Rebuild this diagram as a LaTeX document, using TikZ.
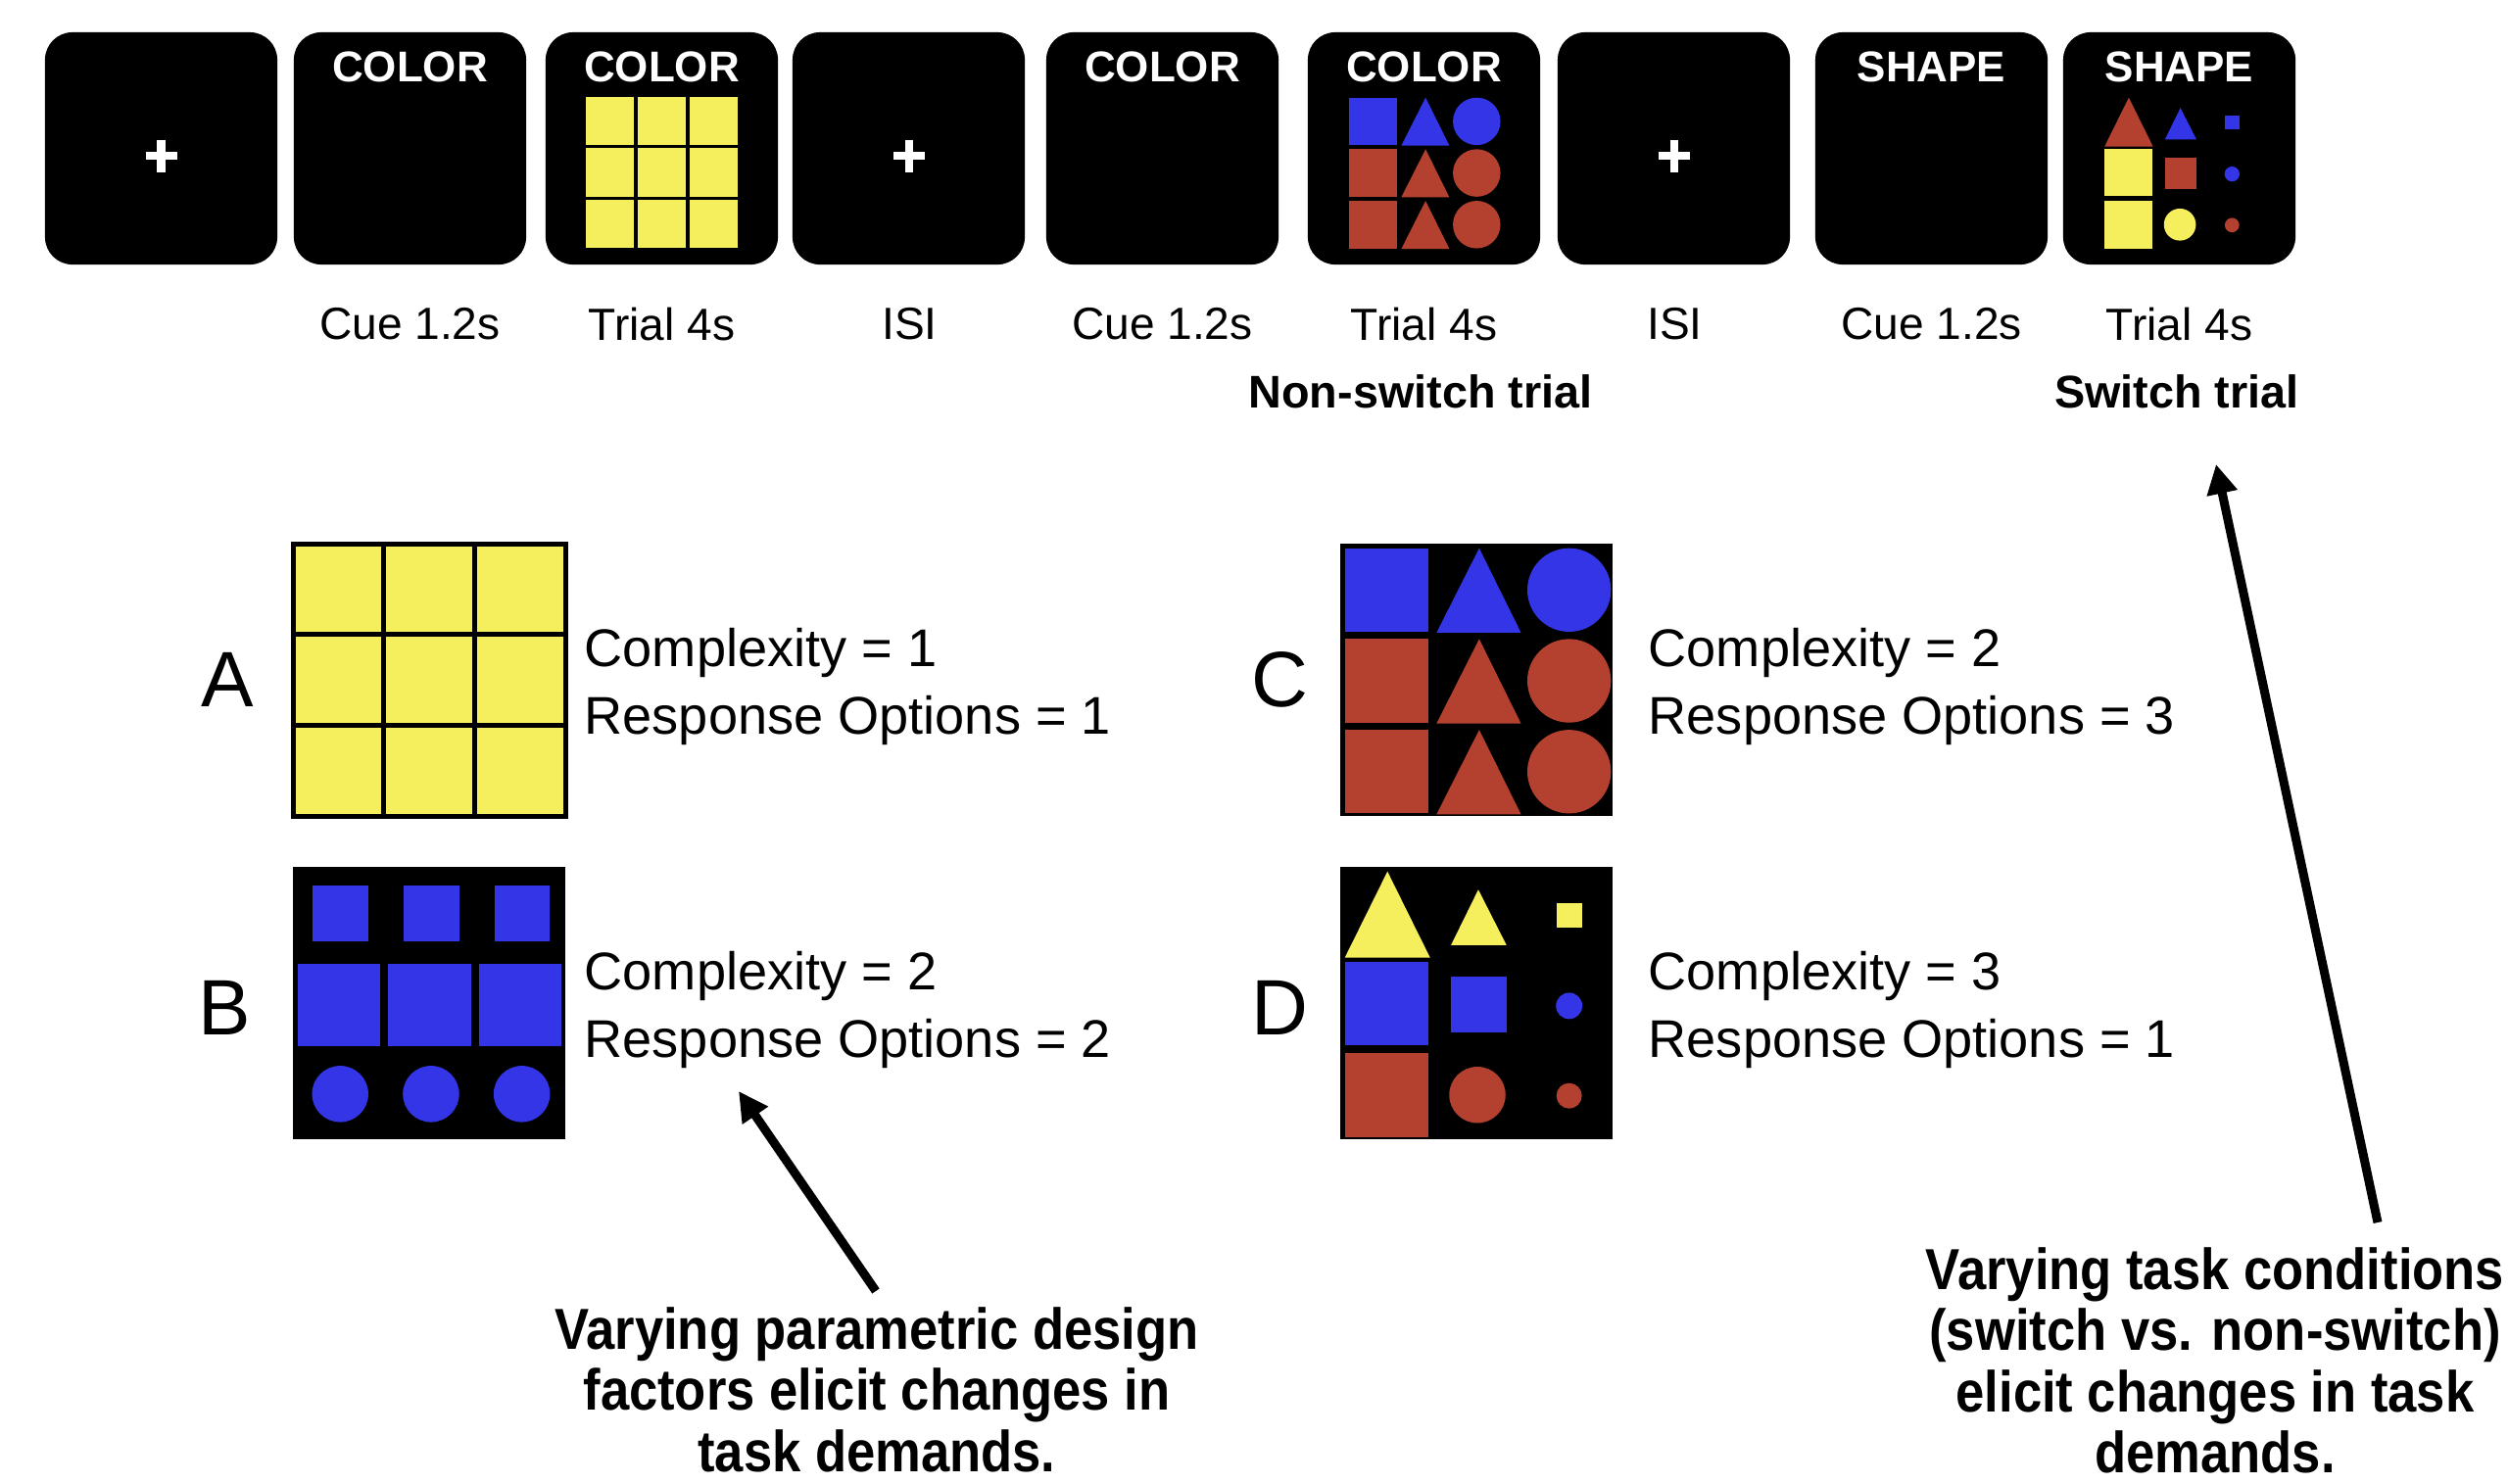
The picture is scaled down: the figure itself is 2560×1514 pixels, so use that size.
\documentclass[tikz,border=0pt]{standalone}
\usepackage{fontspec}
\setmainfont{Liberation Sans}
\newfontfamily\capfont[FakeStretch=0.89]{Liberation Sans}
\usetikzlibrary{arrows.meta}
\definecolor{ylw}{RGB}{245,239,93}
\definecolor{blu}{RGB}{53,53,232}
\definecolor{rd}{RGB}{180,64,47}

\tikzset{
  panel/.style={fill=black, rounded corners=0.28cm, minimum width=2.37cm, minimum height=2.37cm, inner sep=0pt},
  cuetxt/.style={text=white, font=\bfseries\fontsize{12.5}{14}\selectfont, inner sep=0pt},
  lbl/.style={font=\fontsize{13.1}{15}\selectfont, inner sep=0pt},
  trialtype/.style={font=\bfseries\fontsize{13.3}{15}\selectfont, inner sep=0pt},
  letter/.style={font=\fontsize{22.8}{26}\selectfont, inner sep=0pt},
  desc/.style={font=\fontsize{15.4}{18}\selectfont, inner sep=0pt, anchor=base west},
  caption/.style={font=\capfont\bfseries\fontsize{16.8}{17.7}\selectfont, align=center, inner sep=0pt, anchor=north},
  arr/.style={line width=0.09cm, -{Triangle[length=0.3cm, width=0.3cm]}},
  gridbox/.style={minimum width=2.78cm, minimum height=2.78cm, inner sep=0pt, anchor=north west},
  plusline/.style={white, line width=0.08cm},
}

\newcommand{\drawYellowGrid}[1]{%
  \fill[ylw] (0,0) rectangle (3,3);
  \draw[line width=#1] (0,0) rectangle (3,3);
  \draw[line width=#1] (1,0) -- (1,3) (2,0) -- (2,3) (0,1) -- (3,1) (0,2) -- (3,2);
}
\newcommand{\drawShapesB}{%
  \fill[black] (0,0) rectangle (3,3);
  \foreach \i in {0,1,2}{
    \fill[blu] (\i+0.22,0.21) rectangle (\i+0.83,0.82);
    \fill[blu] (\i+0.05,1.07) rectangle (\i+0.96,1.97);
    \fill[blu] (\i+0.52,2.5) circle (0.31);
  }
}
\newcommand{\drawShapesC}{%
  \fill[black] (0,0) rectangle (3,3);
  \foreach \j/\c in {0/blu,1/rd,2/rd}{
    \fill[\c] (0.05,\j+0.05) rectangle (0.97,\j+0.97);
    \fill[\c] (1.06,\j+0.98) -- (1.53,\j+0.05) -- (1.99,\j+0.98) -- cycle;
    \fill[\c] (2.52,\j+0.51) circle (0.46);
  }
}
\newcommand{\drawShapesD}[9]{%
  \fill[black] (0,0) rectangle (3,3);
  \fill[#1] (0.05,1.0) -- (0.52,0.05) -- (0.99,1.0) -- cycle;
  \fill[#2] (1.22,0.86) -- (1.52,0.25) -- (1.83,0.86) -- cycle;
  \fill[#3] (2.38,0.4) rectangle (2.66,0.67);
  \fill[#4] (0.05,1.05) rectangle (0.97,1.96);
  \fill[#5] (1.22,1.21) rectangle (1.83,1.82);
  \fill[#6] (2.52,1.53) circle (0.145);
  \fill[#7] (0.05,2.05) rectangle (0.97,2.98);
  \fill[#8] (1.51,2.51) circle (0.31);
  \fill[#9] (2.52,2.52) circle (0.14);
}

\begin{document}
\begin{tikzpicture}[x=0.01cm, y=-0.01cm]
\useasboundingbox (0,0) rectangle (2560,1514);
\fill[white] (0,0) rectangle (2560,1514);

% ---- top row of panels ----
\node[panel] (p1) at (164.5,151.5) {};
\node[panel] (p2) at (418.5,151.5) {};
\node[panel] (p3) at (675.5,151.5) {};
\node[panel] (p4) at (927.5,151.5) {};
\node[panel] (p5) at (1186.5,151.5) {};
\node[panel] (p6) at (1453.5,151.5) {};
\node[panel] (p7) at (1708.5,151.5) {};
\node[panel] (p8) at (1971.5,151.5) {};
\node[panel] (p9) at (2224.5,151.5) {};

% fixation crosses
\foreach \p in {p1,p4,p7}{
  \begin{scope}[shift={(\p.center)}]
    \draw[plusline] (-16,7.5) -- (16,7.5) (0,-9) -- (0,24);
  \end{scope}
}

% cue words
\node[cuetxt] (w2) at ([yshift=0.835cm]p2.center) {COLOR};
\node[cuetxt] (w3) at ([yshift=0.835cm]p3.center) {COLOR};
\node[cuetxt] (w5) at ([yshift=0.835cm]p5.center) {COLOR};
\node[cuetxt] (w6) at ([yshift=0.835cm]p6.center) {COLOR};
\node[cuetxt] (w8) at ([yshift=0.835cm]p8.center) {SHAPE};
\node[cuetxt] (w9) at ([yshift=0.835cm]p9.center) {SHAPE};

% small stimuli
\begin{scope}[shift={(p3.center)}]
  \begin{scope}[shift={(-79,-54.5)}, x=0.5267cm, y=-0.5267cm]
    \drawYellowGrid{0.035cm}
  \end{scope}
\end{scope}
\begin{scope}[shift={(p6.center)}]
  \begin{scope}[shift={(-79,-54.5)}, x=0.5267cm, y=-0.5267cm]
    \drawShapesC
  \end{scope}
\end{scope}
\begin{scope}[shift={(p9.center)}]
  \begin{scope}[shift={(-79,-54.5)}, x=0.5267cm, y=-0.5267cm]
    \drawShapesD{rd}{blu}{blu}{ylw}{rd}{blu}{ylw}{ylw}{rd}
  \end{scope}
\end{scope}

% labels under panels
\node[lbl] (l2) at (418.5,331) {Cue 1.2s};
\node[lbl] (l3) at (675.5,331) {Trial 4s};
\node[lbl] (l4) at (928.5,331) {ISI};
\node[lbl] (l5) at (1186.5,331) {Cue 1.2s};
\node[lbl] (l6) at (1453.5,331) {Trial 4s};
\node[lbl] (l7) at (1709.5,331) {ISI};
\node[lbl] (l8) at (1971.5,331) {Cue 1.2s};
\node[lbl] (l9) at (2224.5,331) {Trial 4s};
\node[trialtype] (ns) at (1450,400) {Non-switch trial};
\node[trialtype] (sw) at (2222,400) {Switch trial};

% ---- big stimulus grids ----
\node[gridbox] (gA) at (299,555) {};
\node[gridbox] (gB) at (299,885) {};
\node[gridbox] (gC) at (1368,555) {};
\node[gridbox] (gD) at (1368,885) {};

\begin{scope}[shift={(gA.north west)}, x=0.9267cm, y=-0.9267cm]
  \drawYellowGrid{0.05cm}
\end{scope}
\begin{scope}[shift={(gB.north west)}, x=0.9267cm, y=-0.9267cm]
  \drawShapesB
\end{scope}
\begin{scope}[shift={(gC.north west)}, x=0.9267cm, y=-0.9267cm]
  \drawShapesC
\end{scope}
\begin{scope}[shift={(gD.north west)}, x=0.9267cm, y=-0.9267cm]
  \drawShapesD{ylw}{ylw}{ylw}{blu}{blu}{blu}{rd}{rd}{rd}
\end{scope}

% letters
\node[letter] (LA) at (232,694) {A};
\node[letter] (LB) at (229,1029) {B};
\node[letter] (LC) at (1306,694) {C};
\node[letter] (LD) at (1306,1029) {D};

% descriptions
\node[desc] (dA1) at (596,680) {Complexity = 1};
\node[desc] (dA2) at (596,749) {Response Options = 1};
\node[desc] (dB1) at (596,1010) {Complexity = 2};
\node[desc] (dB2) at (596,1079) {Response Options = 2};
\node[desc] (dC1) at (1682,680) {Complexity = 2};
\node[desc] (dC2) at (1682,749) {Response Options = 3};
\node[desc] (dD1) at (1682,1010) {Complexity = 3};
\node[desc] (dD2) at (1682,1079) {Response Options = 1};

% captions
\node[caption] (cap1) at (895,1334) {Varying parametric design\\factors elicit changes in\\task demands.};
\node[caption] (cap2) at (2261,1273) {Varying task conditions\\(switch vs. non-switch)\\elicit changes in task\\demands.};

% arrows
\coordinate (a1s) at (894,1318);
\coordinate (a1e) at (754,1114);
\coordinate (a2s) at (2427,1248);
\coordinate (a2e) at (2262,474);
\draw[arr] (a1s) -- (a1e);
\draw[arr] (a2s) -- (a2e);
\end{tikzpicture}
\end{document}
